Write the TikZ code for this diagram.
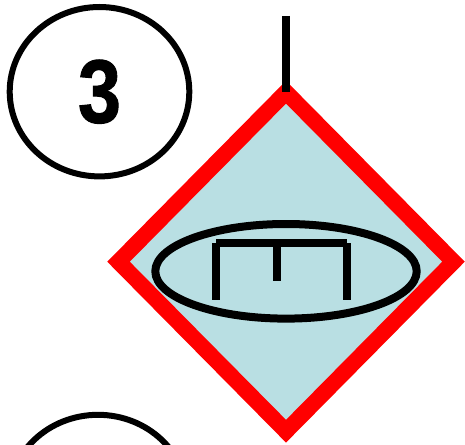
\documentclass[tikz,border=0pt]{standalone}
\usepackage{fontspec}
\setmainfont{Liberation Sans}
\newfontfamily\tagfont[FakeBold=1.2]{Liberation Sans Bold}
\usetikzlibrary{shapes.geometric}
\definecolor{valvefill}{HTML}{B9DFE3}
\begin{document}
\begin{tikzpicture}[
      x=1pt, y=-1pt,
      tagring/.style={draw, ellipse, line width=6pt, inner sep=0pt, outer sep=0pt,
        minimum width=179.6pt, minimum height=169.4pt},
      valvebox/.style={draw=red, fill=valvefill, diamond, line width=16pt,
        inner sep=0pt, outer sep=0pt, minimum width=335pt, minimum height=339pt},
      bonnet/.style={draw, ellipse, line width=8pt, inner sep=0pt, outer sep=0pt,
        minimum width=261.4pt, minimum height=94.6pt},
      heavy/.style={line width=8pt}
    ]
      \clip (0,0) rectangle (465,444);
      \node[tagring] (tagthree) at (99.5,91.7)
        {\scalebox{.86}[1]{\fontsize{90}{90}\selectfont\tagfont 3}};
      \node[tagring] (tagnext) at (98,499.5) {};
      \node[valvebox] (valve) at (286,261.7) {};
      \node[bonnet] (seal) at (286,271.3) {};
      \coordinate (stemtop) at (286,16);
      \draw[heavy] (stemtop) -- (valve.north);
      % gate mark inside the seal
      \coordinate (barleft) at (216,243);
      \coordinate (barright) at (346.7,243);
      \coordinate (footleft) at (216,299.7);
      \coordinate (footright) at (346.7,299.7);
      \coordinate (midtop) at (276.7,243);
      \coordinate (midfoot) at (276.7,280.7);
      \draw[heavy] (barleft) -- (barright);
      \draw[heavy] (barleft) -- (footleft);
      \draw[heavy] (barright) -- (footright);
      \draw[heavy] (midtop) -- (midfoot);
    \end{tikzpicture}
\end{document}
